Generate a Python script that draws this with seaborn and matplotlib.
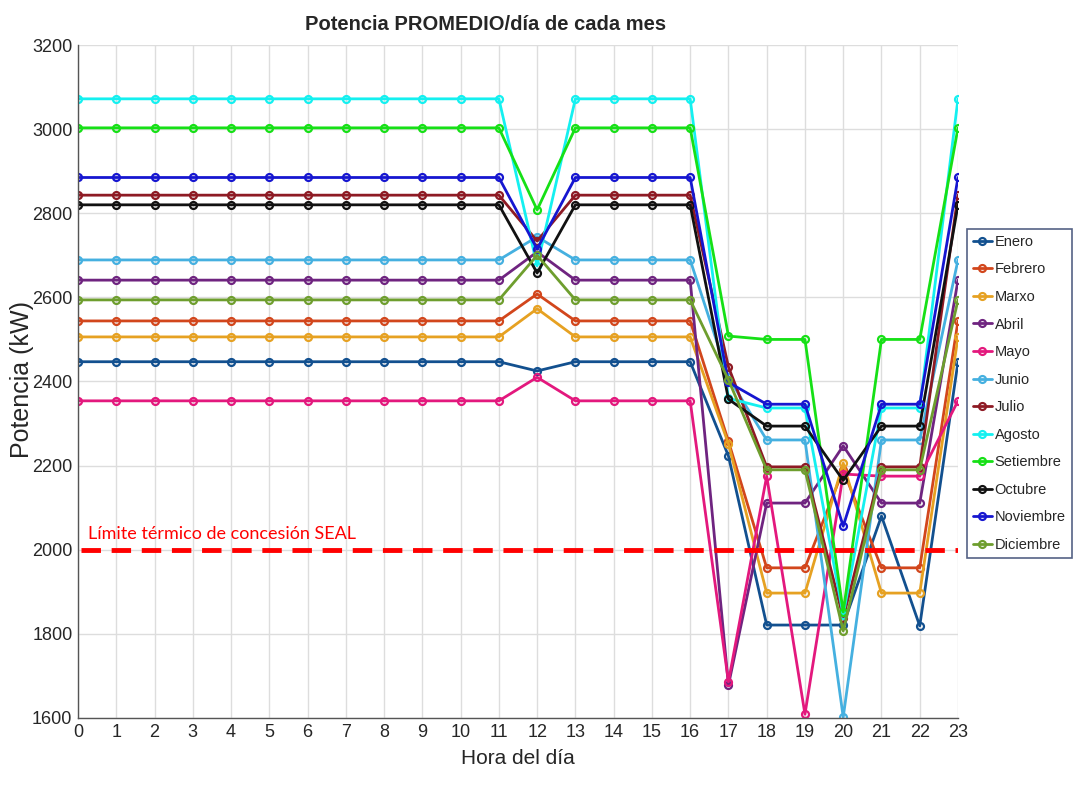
import numpy as np
import pandas as pd
import matplotlib
matplotlib.use("Agg")
import matplotlib.pyplot as plt
import seaborn as sns

# -------------------------------
# DATA
# -------------------------------
horas = list(range(24))

meses = ["Enero", "Febrero", "Marxo", "Abril", "Mayo", "Junio", "Julio",
         "Agosto", "Setiembre", "Octubre", "Noviembre", "Diciembre"]

colores = ["#12508f", "#d2461c", "#e6a122", "#6f2480", "#e3187d", "#45b0e0",
           "#8e1a24", "#14f0f0", "#16e016", "#111111", "#1616d0", "#6e9e2e"]

# value of hours 0-11, 13-16 and 23 (flat part of each curve)
base = [2447, 2544, 2506, 2641, 2354, 2689, 2843, 3072, 3003, 2820, 2885, 2594]

hora12 = [2425, 2608, 2573, 2708, 2410, 2744, 2734, 2675, 2808, 2658, 2715, 2700]
hora17 = [2223, 2258, 2252, 1678, 1686, 2410, 2435, 2360, 2508, 2358, 2398, 2404]
hora18 = [1821, 1957, 1897, 2111, 2175, 2261, 2197, 2337, 2500, 2294, 2346, 2190]
hora19 = [1821, 1957, 1897, 2111, 1609, 2261, 2197, 2337, 2500, 2294, 2346, 2190]
hora20 = [1821, 2190, 2206, 2247, 2180, 1602, 1838, 1845, 1852, 2165, 2056, 1807]
hora21 = [2080, 1957, 1897, 2111, 2175, 2261, 2197, 2337, 2500, 2294, 2346, 2190]
hora22 = [1819, 1957, 1897, 2111, 2175, 2261, 2197, 2337, 2500, 2294, 2346, 2190]

limite = 2000
texto_limite = "Límite térmico de concesión SEAL"

# build long table
filas = []
for i, mes in enumerate(meses):
    vals = [base[i]] * 12 + [hora12[i]] + [base[i]] * 4 + \
           [hora17[i], hora18[i], hora19[i], hora20[i], hora21[i], hora22[i], base[i]]
    for h, v in zip(horas, vals):
        filas.append({"Hora": h, "Potencia": v, "Mes": mes})
df = pd.DataFrame(filas)

# -------------------------------
# PLOT
# -------------------------------
sns.set_style("white")
plt.rcParams['font.family'] = ['Liberation Sans', 'DejaVu Sans']

fig = plt.figure(figsize=(10.73, 7.92), dpi=100)
ax = fig.add_axes([78/1073, 1 - 718/792, 880/1073, 673/792])

for mes, c in zip(meses, colores):
    sub = df[df["Mes"] == mes]
    sns.lineplot(data=sub, x="Hora", y="Potencia", ax=ax, color=c, lw=2,
                 marker="o", markersize=5, markerfacecolor="none",
                 markeredgecolor=c, markeredgewidth=1.6, label=mes)

# thermal limit line
ax.axhline(limite, color="#ff0000", lw=3.5, ls=(0, (4, 2.2)), xmin=0.003, xmax=1)
ax.text(0.25, limite + 18, texto_limite, color="#ff0000", fontsize=13,
        family=["Lato", "DejaVu Sans"], va="bottom", ha="left")

ax.set_xlim(0, 23)
ax.set_ylim(1600, 3200)
ax.set_xticks(horas)
ax.set_yticks(range(1600, 3201, 200))
ax.tick_params(axis="both", direction="in", length=5, color="#555555",
               labelsize=13, pad=4)
ax.grid(True, color="#dddddd", lw=1)
for s in ["top", "right"]:
    ax.spines[s].set_visible(False)
for s in ["left", "bottom"]:
    ax.spines[s].set_color("#555555")
    ax.spines[s].set_linewidth(1)

ax.set_xlabel("Hora del día", fontsize=15, labelpad=6)
ax.set_ylabel("")
fig.text(22/1073, 1 - 380/792, "Potencia (kW)", rotation=90, fontsize=18,
         ha="center", va="center")
fig.text(486/1073, 1 - 25/792, "Potencia PROMEDIO/día de cada mes",
         fontsize=14.5, fontweight="bold", ha="center", va="center")

leg = ax.legend(loc="upper left", bbox_to_anchor=(967/1073, 1 - 229/792),
                bbox_transform=fig.transFigure, borderaxespad=0, fontsize=10.5,
                frameon=True, fancybox=False, handlelength=1.3, handletextpad=0.2,
                labelspacing=0.93, borderpad=0.4)
leg.get_frame().set_edgecolor("#2a3a66")
leg.get_frame().set_linewidth(1.2)

fig.savefig("out.png", dpi=100)
